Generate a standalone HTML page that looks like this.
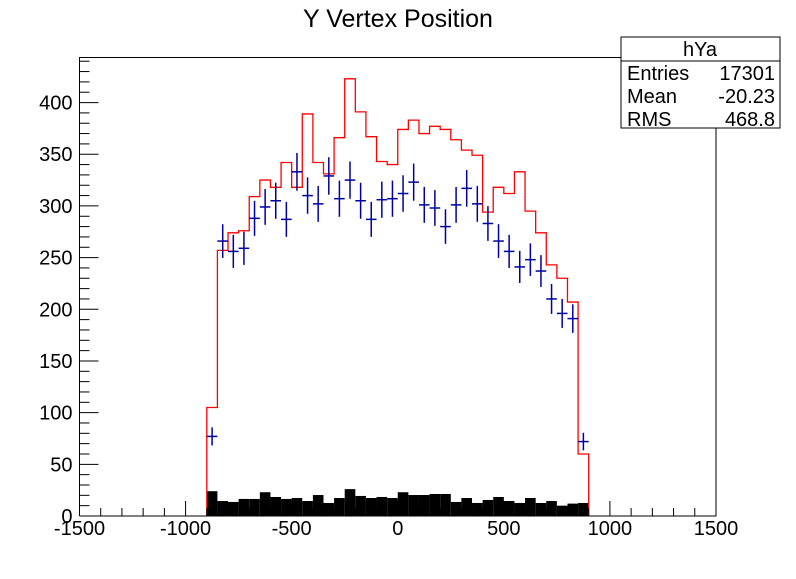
<!DOCTYPE html>
<html><head><meta charset="utf-8">
<style>
body{margin:0;background:#fff;}
svg text{font-family:"Liberation Sans",Arial,sans-serif;}
</style></head>
<body>
<svg id="chart" width="796" height="574" viewBox="0 0 796 574" xmlns="http://www.w3.org/2000/svg">
<rect width="796" height="574" fill="#fff"/>
<text x="398" y="27" font-size="25" text-anchor="middle">Y Vertex Position</text>
<g id="marks"></g>
<g id="axes"></g>
<g>
<rect x="621" y="37" width="159" height="91" fill="#fff" stroke="#000" stroke-width="1"/>
<line x1="621" y1="61" x2="780" y2="61" stroke="#000"/>
<text x="700" y="56" font-size="20" text-anchor="middle">hYa</text>
<text x="627" y="80" font-size="20">Entries</text>
<text x="775" y="80" font-size="20" text-anchor="end">17301</text>
<text x="627" y="103" font-size="20">Mean</text>
<text x="775" y="103" font-size="20" text-anchor="end">-20.23</text>
<text x="627" y="126" font-size="20">RMS</text>
<text x="775" y="126" font-size="20" text-anchor="end">468.8</text>
</g>
</svg>
<script>
const binLow = -900;
const binWidth = 50;
const redValues = [105,257,274,276,309,325,318,342,318,389,342,331,366,423,391,367,343,340,374,383,370,377,374,364,354,349,294,318,312,333,295,274,243,230,207,60];
const blueValues = [77,266,256,259,288,299,305,287,333,310,302,329,307,325,305,287,306,307,312,323,301,298,280,301,317,302,283,266,256,241,248,237,210,196,191,72];
const blackValues = [24,14.5,13.6,16.5,16.5,23,18.4,16.5,17.4,14.5,20.3,12.6,17.4,26,19.4,17.4,18.4,17.4,23,20.3,20.3,21.3,21.3,13.6,17.4,12.6,15.5,18.4,14.5,12.6,17.4,12.6,14.5,10,12,12.6];
const xTicks = [-1500,-1000,-500,0,500,1000,1500];
const yTicks = [0,50,100,150,200,250,300,350,400];

const X0=79.5, X1=716, Y0=516, Y1=57.5;
const xMin=-1500, xMax=1500, yMin=0, yMax=443.6;
const sx = v => X0 + (v-xMin)/(xMax-xMin)*(X1-X0);
const sy = v => Y0 - (v-yMin)/(yMax-yMin)*(Y0-Y1);
const NS="http://www.w3.org/2000/svg";
const marks=document.getElementById('marks');
const axes=document.getElementById('axes');
function mk(tag, attrs, parent){const e=document.createElementNS(NS,tag);for(const k in attrs)e.setAttribute(k,attrs[k]);parent.appendChild(e);return e;}

blackValues.forEach((v,i)=>{
  const a=binLow+i*binWidth;
  const r=mk('rect',{x:sx(a),y:sy(v),width:sx(a+binWidth)-sx(a),height:sy(0)-sy(v),fill:'#000'},marks);
  
  
});
let d='M'+sx(binLow)+','+sy(0);
redValues.forEach((v,i)=>{const a=binLow+i*binWidth;d+=' L'+sx(a)+','+sy(v)+' L'+sx(a+binWidth)+','+sy(v);});
d+=' L'+sx(binLow+redValues.length*binWidth)+','+sy(0);
const rp=mk('path',{d:d,fill:'none',stroke:'#ff0000','stroke-width':1.3},marks);


blueValues.forEach((v,i)=>{
  const a=binLow+i*binWidth, c=a+binWidth/2, e=Math.sqrt(v);
  const g=mk('g',{stroke:'#0000a0','stroke-width':1.5},marks);
  
  
  mk('line',{x1:sx(a),x2:sx(a+binWidth),y1:sy(v),y2:sy(v)},g);
  mk('line',{x1:sx(c),x2:sx(c),y1:sy(v-e),y2:sy(v+e)},g);
});

const fr=mk('path',{d:`M${X0},${Y0} L${X0},${Y1} L621,${Y1} M716,128 L716,${Y0} L${X0},${Y0}`,fill:'none',stroke:'#000','stroke-width':1},axes);


for(let v=xMin; v<=xMax; v+=100){
  const major=(v%500===0);
  mk('line',{x1:sx(v),x2:sx(v),y1:Y0,y2:Y0-(major?15:8),stroke:'#000'},axes);
}
xTicks.forEach(v=>{
  const t=mk('text',{x:sx(v),y:Y0+19,'font-size':20,'text-anchor':'middle'},axes);
  t.textContent=v;
  
  
});
for(let v=0; v<=440; v+=10){
  const major=(v%50===0);
  mk('line',{x1:X0,x2:X0+(major?19:10),y1:sy(v),y2:sy(v),stroke:'#000'},axes);
}
yTicks.forEach(v=>{
  const t=mk('text',{x:X0-7,y:sy(v)+7,'font-size':20,'text-anchor':'end'},axes);
  t.textContent=v;
  
  
});
</script>
</body></html>
